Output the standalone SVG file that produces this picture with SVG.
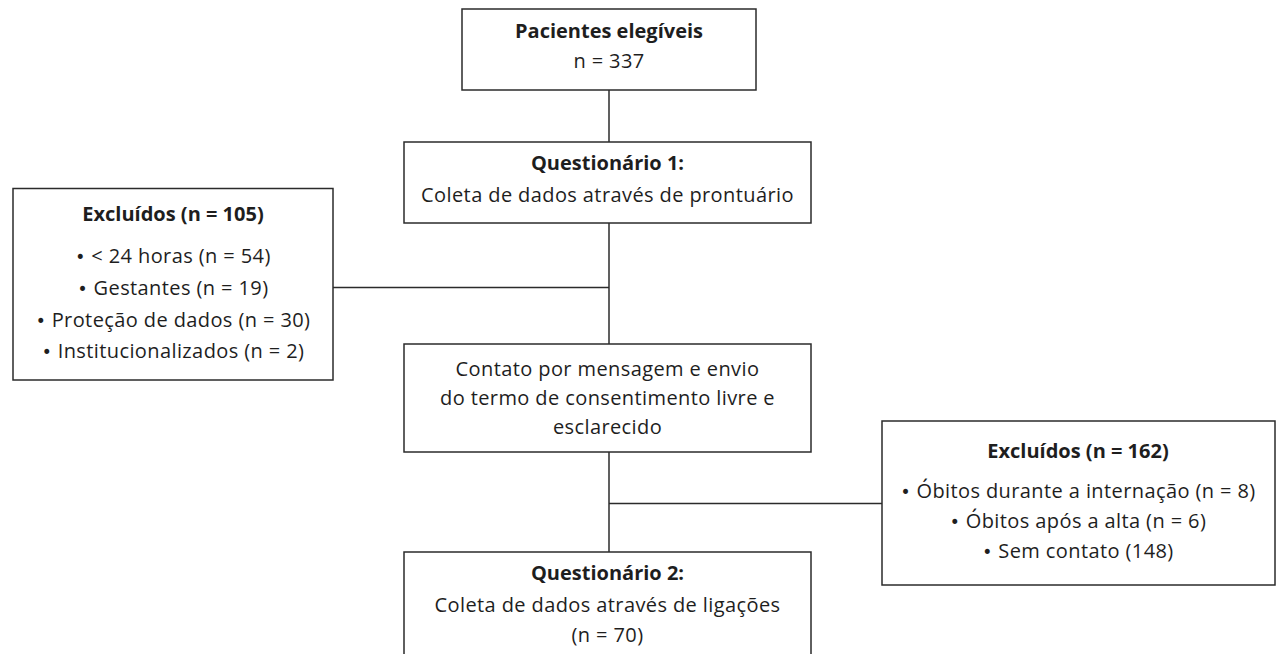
<svg xmlns="http://www.w3.org/2000/svg" width="1276" height="654" viewBox="0 0 1276 654">
<style>
.box{fill:#fff;stroke:#2b2b2b;stroke-width:1.5}
.ln{fill:none;stroke:#2b2b2b;stroke-width:1.5}
text{font-family:"Open Sans","Noto Sans",sans-serif;font-size:20px;letter-spacing:0.4px;fill:#1e1e1e;text-anchor:middle}
.b{font-weight:bold;letter-spacing:0}
.d{font-family:"DejaVu Sans",sans-serif;font-size:17px}
</style>
<rect width="1276" height="654" fill="#fff"/>
<g id="connectors">
<line class="ln" x1="609" y1="90" x2="609" y2="142"/>
<line class="ln" x1="609" y1="223" x2="609" y2="344"/>
<line class="ln" x1="333" y1="287.5" x2="609" y2="287.5"/>
<line class="ln" x1="609" y1="452" x2="609" y2="552"/>
<line class="ln" x1="609" y1="503.5" x2="882" y2="503.5"/>
</g>
<g id="n1">
<rect class="box" x="462" y="9" width="294" height="81"/>
<text class="b" x="609" y="38">Pacientes elegíveis</text>
<text x="609" y="68">n = 337</text>
</g>
<g id="n2">
<rect class="box" x="404" y="142" width="407" height="81"/>
<text class="b" x="607.5" y="170">Questionário 1:</text>
<text x="607.5" y="201.5">Coleta de dados através de prontuário</text>
</g>
<g id="n3">
<rect class="box" x="13" y="188.5" width="320" height="191.5"/>
<text class="b" x="173" y="220.5">Excluídos (n = 105)</text>
<text x="173" y="263"><tspan class="d">•</tspan> &lt; 24 horas (n = 54)</text>
<text x="173" y="295"><tspan class="d">•</tspan> Gestantes (n = 19)</text>
<text x="173" y="326.5"><tspan class="d">•</tspan> Proteção de dados (n = 30)</text>
<text x="173" y="358"><tspan class="d">•</tspan> Institucionalizados (n = 2)</text>
</g>
<g id="n4">
<rect class="box" x="404" y="344" width="407" height="108"/>
<text x="607.5" y="375.5">Contato por mensagem e envio</text>
<text x="607.5" y="404.5">do termo de consentimento livre e</text>
<text x="607.5" y="433.5">esclarecido</text>
</g>
<g id="n5">
<rect class="box" x="882" y="421" width="393" height="164"/>
<text class="b" x="1078" y="457.5">Excluídos (n = 162)</text>
<text x="1078" y="498"><tspan class="d">•</tspan> Óbitos durante a internação (n = 8)</text>
<text x="1078" y="528"><tspan class="d">•</tspan> Óbitos após a alta (n = 6)</text>
<text x="1078" y="557.5"><tspan class="d">•</tspan> Sem contato (148)</text>
</g>
<g id="n6">
<rect class="box" x="404" y="552" width="407" height="110"/>
<text class="b" x="607.5" y="580">Questionário 2:</text>
<text x="607.5" y="611.5">Coleta de dados através de ligações</text>
<text x="607.5" y="641.5">(n = 70)</text>
</g>
</svg>
